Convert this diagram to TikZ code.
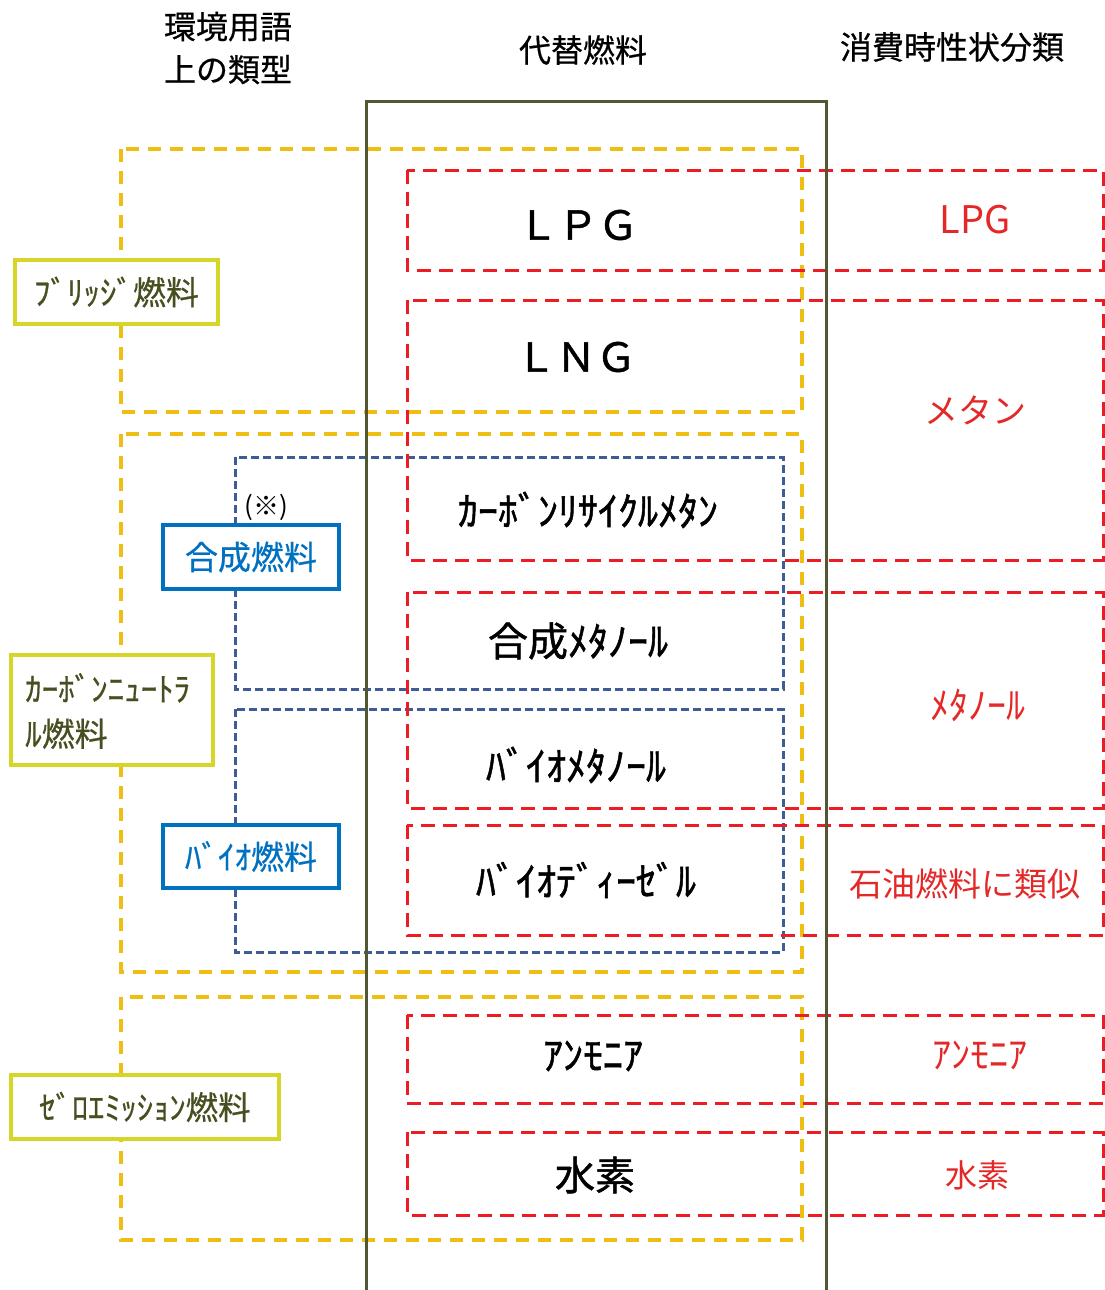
\documentclass[tikz,border=0pt]{standalone}
\usepackage{fontspec}
\setmainfont{Noto Sans CJK JP}
\newfontfamily\thickfont[FakeBold=1.2]{Noto Sans CJK JP}
\newfontfamily\semifont[FakeBold=0.6]{Noto Sans CJK JP}
\definecolor{olivec}{RGB}{82,86,50}
\definecolor{golddash}{RGB}{238,190,20}
\definecolor{ylabel}{RGB}{214,214,40}
\definecolor{ytext}{RGB}{72,78,32}
\definecolor{reddash}{RGB}{236,28,36}
\definecolor{redtext}{RGB}{228,40,40}
\definecolor{bluedash}{RGB}{62,92,150}
\definecolor{bluelab}{RGB}{0,112,192}
\tikzset{
  goldbox/.style={draw=golddash, line width=3.5pt, dash pattern=on 13pt off 9pt},
  bluebox/.style={draw=bluedash, line width=3pt, dash pattern=on 8pt off 4pt},
  redbox/.style={draw=reddash, line width=3pt, dash pattern=on 14pt off 8pt},
  ylab/.style={draw=ylabel, line width=4.5pt, fill=white, text=ytext, inner sep=0pt, font=\semifont\fontsize{33}{45}\selectfont},
  blab/.style={draw=bluelab, line width=4.5pt, fill=white, text=bluelab, inner sep=0pt, font=\semifont\fontsize{33}{40}\selectfont},
  head/.style={inner sep=0pt, font=\semifont\fontsize{32}{43}\selectfont, align=center},
  mid/.style={inner sep=0pt, font=\thickfont\fontsize{40}{48}\selectfont},
  rtxt/.style={inner sep=0pt, text=redtext, font=\fontsize{34}{40}\selectfont},
}
\begin{document}
\begin{tikzpicture}[x=1pt,y=-1pt]
\useasboundingbox (0,0) rectangle (1105,1290);
% headers
\node[head] (h1) at (228,48) {環境用語\\上の類型};
\node[head] (h2) at (583,50) {代替燃料};
\node[head] (h3) at (952,47) {消費時性状分類};
% gold dashed groups
\draw[goldbox] (121,149) rectangle (802,412);
\draw[goldbox] (121,434) rectangle (802,972);
\draw[goldbox] (121,997) rectangle (802,1240);
% blue dashed groups
\draw[bluebox] (235,457) rectangle (783,689);
\draw[bluebox] (235,709) rectangle (783,952);
% red dashed groups
\draw[redbox] (407,170) rectangle (1103,270);
\draw[redbox] (407,300) rectangle (1103,560);
\draw[redbox] (407,592) rectangle (1103,808);
\draw[redbox] (407,825) rectangle (1103,935);
\draw[redbox] (407,1015) rectangle (1103,1103);
\draw[redbox] (407,1132) rectangle (1103,1215);
% olive column
\draw[olivec, line width=3pt] (366,1292) -- (366,101) -- (826,101) -- (826,1292);
% labels
\node[ylab, minimum width=203, minimum height=64] (bridge) at (116.5,292) {ﾌﾞﾘｯｼﾞ燃料};
\node[ylab, minimum width=202, minimum height=110] (cnbox) at (112,710) {};
\node[inner sep=0pt, anchor=west, align=left, text=ytext, font=\semifont\fontsize{33}{45}\selectfont] (cn) at (25,711) {ｶｰﾎﾞﾝﾆｭｰﾄﾗ\\ﾙ燃料};
\node[ylab, minimum width=268, minimum height=64, font=\semifont\fontsize{32.5}{40}\selectfont] (zero) at (145,1107) {ｾﾞﾛｴﾐｯｼｮﾝ燃料};
\node[blab, minimum width=176, minimum height=64] (syn) at (251,557) {合成燃料};
\node[blab, minimum width=176, minimum height=63] (bio) at (251,856.5) {ﾊﾞｲｵ燃料};
\node[inner sep=0pt, font=\fontsize{26}{30}\selectfont] (note) at (266,507) {(※)};
% middle column
\node[mid] (lpg) at (578,225) {ＬＰＧ};
\node[mid] (lng) at (576,357) {ＬＮＧ};
\node[mid] (crm) at (588,510) {ｶｰﾎﾞﾝﾘｻｲｸﾙﾒﾀﾝ};
\node[mid] (sme) at (578,641) {合成ﾒﾀﾉｰﾙ};
\node[mid] (bme) at (576,765) {ﾊﾞｲｵﾒﾀﾉｰﾙ};
\node[mid] (bdi) at (586,880) {ﾊﾞｲｵﾃﾞｨｰｾﾞﾙ};
\node[mid] (amm) at (593,1056) {ｱﾝﾓﾆｱ};
\node[mid] (hyd) at (595,1175) {水素};
% right column
\node[rtxt, font=\fontsize{38}{44}\selectfont] (rlpg) at (975,220) {LPG};
\node[rtxt] (rmet) at (975,410) {メタン};
\node[rtxt, font=\fontsize{38}{44}\selectfont] (rmeo) at (978,705) {ﾒﾀﾉｰﾙ};
\node[rtxt, font=\fontsize{33}{40}\selectfont] (rpet) at (965,884) {石油燃料に類似};
\node[rtxt, font=\fontsize{38}{44}\selectfont] (ramm) at (980,1055) {ｱﾝﾓﾆｱ};
\node[rtxt, font=\fontsize{32}{40}\selectfont] (rhyd) at (977,1175) {水素};
\end{tikzpicture}
\end{document}
